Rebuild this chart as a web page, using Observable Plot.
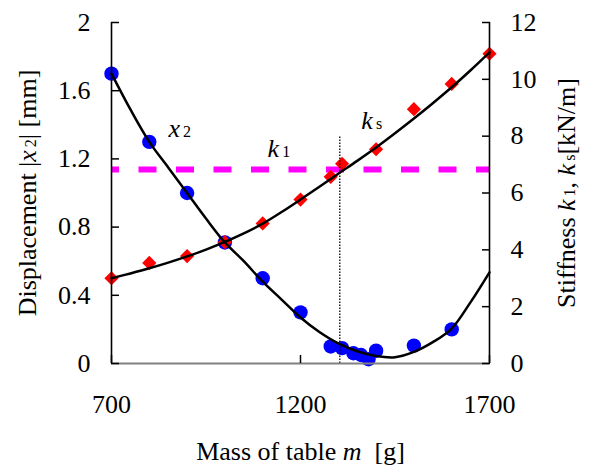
<!DOCTYPE html>
<html><head><meta charset="utf-8">
<script src="https://cdn.jsdelivr.net/npm/d3@7"></script>
<script src="https://cdn.jsdelivr.net/npm/@observablehq/plot@0.6"></script>
<style>body{margin:0;background:#fff}</style>
</head><body><div id="chart"></div>
<script>
// ---- data ----
const massX2 = [700, 800, 900, 1000, 1100, 1200, 1280, 1310, 1340, 1360, 1380, 1400, 1500, 1600];
const x2 = [1.70, 1.30, 1.00, 0.71, 0.50, 0.30, 0.10, 0.09, 0.06, 0.05, 0.025, 0.075, 0.105, 0.20];

const massKs = [700, 800, 900, 1000, 1100, 1200, 1280, 1310, 1400, 1500, 1600, 1700];
const ks = [3.0, 3.54, 3.78, 4.27, 4.93, 5.77, 6.57, 7.03, 7.54, 8.95, 9.84, 10.9];

const fitMass = [700, 750, 800, 850, 900, 950, 1000, 1050, 1100, 1150, 1200, 1250, 1300, 1350, 1400, 1450, 1500, 1550, 1600, 1650, 1700];
const x2Fit = [1.70, 1.49, 1.30, 1.15, 1.00, 0.85, 0.71, 0.60, 0.48, 0.375, 0.27, 0.185, 0.118, 0.072, 0.044, 0.037, 0.068, 0.125, 0.205, 0.36, 0.535];
const ksFit = [3.0, 3.17, 3.35, 3.55, 3.77, 4.01, 4.28, 4.58, 4.92, 5.33, 5.77, 6.22, 6.68, 7.13, 7.6, 8.1, 8.62, 9.16, 9.72, 10.32, 10.95];

const k1 = 6.83;            // kN/m, dashed line
const matchMass = 1304;     // g, dotted line where ks = k1
const matchTop = 8;         // kN/m, top of dotted line

const xTicks = [700, 1200, 1700];
const leftTicks = [0, 0.4, 0.8, 1.2, 1.6, 2];
const rightTicks = [0, 2, 4, 6, 8, 10, 12];
const xDomain = [700, 1700];
const yDomain = [0, 2];
const kPerMm = 6; // 12 kN/m on the right axis ↔ 2 mm on the left axis

const labels = [
  {text: "x2", x: 851, y: 1.33},
  {text: "k1", x: 1113, y: 1.21},
  {text: "ks", x: 1361, y: 1.375}
];
const xTitle = "Mass of table m  [g]";
const yTitle = "Displacement |x2| [mm]";
const y2Title = "Stiffness k1, ks [kN/m]";

// ---- tables ----
const x2Data = massX2.map((m, i) => ({m, v: x2[i]}));
const ksData = massKs.map((m, i) => ({m, v: ks[i] / kPerMm}));
const x2FitData = fitMass.map((m, i) => ({m, v: x2Fit[i]}));
const ksFitData = fitMass.map((m, i) => ({m, v: ksFit[i] / kPerMm}));

const serif = "Liberation Serif";
const fs = 26;

const chart = Plot.plot({
  width: 589, height: 467,
  marginLeft: 111, marginRight: 100, marginTop: 22, marginBottom: 104,
  style: {fontFamily: serif, fontSize: "26px", background: "white", color: "black"},
  x: {domain: xDomain},
  y: {domain: yDomain},
  marks: [
    Plot.ruleY([k1 / kPerMm], {stroke: "#ff00ff", strokeWidth: 6, strokeDasharray: "18,19.5", strokeDashoffset: 10}),
    Plot.dot(x2Data, {x: "m", y: "v", r: 7.2, fill: "#0000ff"}),
    Plot.dot(ksData, {x: "m", y: "v", r: 6.4, symbol: "diamond2", fill: "#ff0000"}),
    Plot.line(x2FitData, {x: "m", y: "v", curve: "catmull-rom", stroke: "black", strokeWidth: 2.5}),
    Plot.line(ksFitData, {x: "m", y: "v", curve: "catmull-rom", stroke: "black", strokeWidth: 2.5}),
    Plot.ruleX([matchMass], {y1: 0, y2: matchTop / kPerMm, stroke: "black", strokeWidth: 1.3, strokeDasharray: "1.5,1.5"}),
    Plot.ruleX(xDomain, {stroke: "black", strokeWidth: 1.6}),
    Plot.ruleY([yDomain[0]], {stroke: "#808080", strokeWidth: 2}),
    Plot.axisX(xTicks, {anchor: "bottom", tickSize: -8, tickPadding: 39, strokeWidth: 1.5, fontFamily: serif, fontSize: fs, tickFormat: d => String(d)}),
    Plot.axisY(leftTicks, {anchor: "left", tickSize: -8, tickPadding: 29, strokeWidth: 1.5, fontFamily: serif, fontSize: fs, tickFormat: d => String(d)}),
    Plot.axisY(rightTicks.map(k => k / kPerMm), {anchor: "right", tickSize: -8, tickPadding: 29, strokeWidth: 1.5, fontFamily: serif, fontSize: fs, tickFormat: d => String(Math.round(d * kPerMm))}),
    Plot.text([xTitle], {frameAnchor: "bottom", dy: 88, textAnchor: "middle", lineAnchor: "middle", fontFamily: serif, fontSize: fs}),
    Plot.text([yTitle], {frameAnchor: "left", dx: -84, rotate: -90, textAnchor: "middle", lineAnchor: "middle", fontFamily: serif, fontSize: fs}),
    Plot.text([y2Title], {frameAnchor: "right", dx: 77, rotate: -90, textAnchor: "middle", lineAnchor: "middle", fontFamily: serif, fontSize: fs}),
    Plot.text(labels, {x: "x", y: "y", text: "text", textAnchor: "start", lineAnchor: "bottom", fontFamily: serif, fontSize: fs})
  ]
});
document.getElementById("chart").appendChild(chart);

// ---- rich text: italics and small subscripts ----
const rich = {
  [xTitle]: [["Mass of table "], ["m", "i"], ["\u00a0 [g]"]],
  [yTitle]: [["Displacement |"], ["x", "i"], ["2", "s"], ["| [mm]"]],
  [y2Title]: [["Stiffness "], ["k", "i"], ["1", "s"], [", "], ["k", "i"], ["s", "s"], ["[kN/m]"]],
  "x2": [["x", "i"], ["2", "s"]],
  "k1": [["k", "i"], ["1", "s"]],
  "ks": [["k", "i"], ["s", "s"]]
};
d3.select(chart).selectAll("text").each(function() {
  const parts = rich[this.textContent];
  if (!parts) return;
  const sel = d3.select(this);
  sel.text(null);
  for (const [t, k] of parts) {
    const ts = sel.append("tspan").text(t);
    if (k === "i") ts.attr("font-style", "italic");
    if (k === "s") ts.attr("font-size", 16).attr("dx", 3);
  }
});
</script>
</body></html>
